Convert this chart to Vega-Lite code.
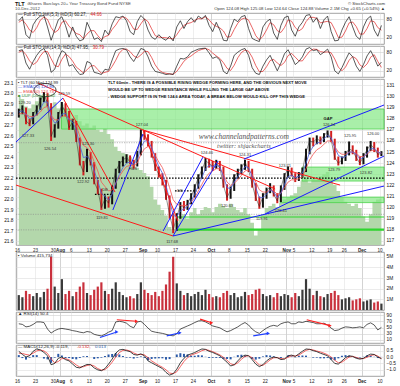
{
"$schema":"https://vega.github.io/schema/vega-lite/v6.json",
"background":"white",
"padding":{"left":3,"top":1,"right":2,"bottom":1},
"config":{"font":"Liberation Sans","view":{"stroke":"#8c8c8c","strokeWidth":0.8},"axis":{"labelFontSize":4.6,"labelColor":"#222","ticks":false,"domain":false,"title":null,"gridColor":"#dedede","gridWidth":0.6,"labelPadding":2,"labelOverlap":false,"labelSeparation":0,"labelBound":false},"axisY":{"labelOverlap":false,"labelFontSize":4.8,"labelColor":"#111"}},
"datasets":{
"d":[
{"t":0,"lo":128.1,"hi":128.9,"c":128.6,"e1":128.6,"e2":128.4,"u":22.97,"k5":75,"d5":70,"k14":85,"d14":80,"v":1.4,"r":62,"m":0.45,"s":0.3,"h":0.15,"dn":0},
{"t":1,"lo":128.4,"hi":129.2,"c":129.0,"e1":128.7,"e2":128.5,"u":22.95,"k5":88,"d5":78,"k14":88,"d14":85,"v":1.2,"r":60,"m":0.2,"s":0.28,"h":-0.08,"dn":0},
{"t":2,"lo":127.5,"hi":129.0,"c":127.8,"e1":128.4,"e2":128.4,"u":22.88,"k5":30,"d5":64,"k14":45,"d14":72,"v":1.8,"r":52,"m":0.0,"s":0.2,"h":-0.2,"dn":1},
{"t":3,"lo":127.33,"hi":128.0,"c":127.5,"e1":128.0,"e2":128.2,"u":22.86,"k5":18,"d5":45,"k14":25,"d14":52,"v":1.5,"r":54,"m":0.1,"s":0.15,"h":-0.05,"dn":1},
{"t":4,"lo":127.5,"hi":128.6,"c":128.4,"e1":128.1,"e2":128.2,"u":22.90,"k5":62,"d5":37,"k14":50,"d14":40,"v":1.3,"r":60,"m":0.45,"s":0.3,"h":0.15,"dn":0},
{"t":5,"lo":128.3,"hi":129.2,"c":128.9,"e1":128.4,"e2":128.3,"u":22.93,"k5":80,"d5":53,"k14":70,"d14":48,"v":1.6,"r":68,"m":0.63,"s":0.48,"h":0.15,"dn":0},
{"t":6,"lo":128.8,"hi":129.9,"c":129.6,"e1":128.9,"e2":128.6,"u":22.97,"k5":90,"d5":77,"k14":85,"d14":68,"v":1.2,"r":68,"m":0.55,"s":0.55,"h":0,"dn":0},
{"t":7,"lo":129.5,"hi":130.4,"c":130.2,"e1":129.5,"e2":129.0,"u":22.98,"k5":92,"d5":87,"k14":92,"d14":82,"v":1.7,"r":66,"m":0.36,"s":0.48,"h":-0.12,"dn":0},
{"t":8,"lo":129.1,"hi":130.3,"c":129.4,"e1":129.5,"e2":129.1,"u":22.94,"k5":55,"d5":79,"k14":70,"d14":82,"v":2.0,"r":45,"m":0.1,"s":0.28,"h":-0.18,"dn":1},
{"t":9,"lo":126.0,"hi":129.4,"c":126.4,"e1":128.2,"e2":128.3,"u":22.88,"k5":12,"d5":53,"k14":15,"d14":59,"v":5.0,"r":32,"m":-0.6,"s":-0.15,"h":-0.45,"dn":1},
{"t":10,"lo":126.3,"hi":127.5,"c":127.2,"e1":127.6,"e2":127.9,"u":22.92,"k5":45,"d5":37,"k14":25,"d14":37,"v":2.2,"r":40,"m":-0.5,"s":-0.45,"h":-0.05,"dn":0},
{"t":11,"lo":127.1,"hi":128.6,"c":128.3,"e1":127.8,"e2":127.9,"u":22.86,"k5":78,"d5":45,"k14":60,"d14":33,"v":1.6,"r":45,"m":-0.1,"s":-0.35,"h":0.25,"dn":0},
{"t":12,"lo":128.2,"hi":129.5,"c":129.2,"e1":128.4,"e2":128.2,"u":22.90,"k5":88,"d5":70,"k14":85,"d14":57,"v":2.9,"r":47,"m":0.0,"s":-0.12,"h":0.12,"dn":0},
{"t":13,"lo":128.2,"hi":129.4,"c":128.6,"e1":128.5,"e2":128.3,"u":22.84,"k5":60,"d5":75,"k14":78,"d14":74,"v":1.5,"r":45,"m":-0.2,"s":-0.12,"h":-0.08,"dn":1},
{"t":14,"lo":127.0,"hi":128.7,"c":127.2,"e1":127.9,"e2":128.0,"u":22.82,"k5":22,"d5":57,"k14":35,"d14":66,"v":1.8,"r":43,"m":-0.3,"s":-0.22,"h":-0.08,"dn":1},
{"t":15,"lo":127.0,"hi":128.0,"c":127.7,"e1":127.7,"e2":127.9,"u":22.76,"k5":55,"d5":46,"k14":40,"d14":51,"v":1.3,"r":40,"m":-0.55,"s":-0.4,"h":-0.15,"dn":0},
{"t":16,"lo":125.9,"hi":127.8,"c":126.2,"e1":127.0,"e2":127.4,"u":22.80,"k5":25,"d5":34,"k14":22,"d14":32,"v":1.7,"r":38,"m":-0.8,"s":-0.62,"h":-0.18,"dn":1},
{"t":17,"lo":123.8,"hi":126.3,"c":124.0,"e1":125.6,"e2":126.4,"u":22.74,"k5":10,"d5":30,"k14":8,"d14":23,"v":2.2,"r":35,"m":-0.85,"s":-0.78,"h":-0.07,"dn":1},
{"t":18,"lo":122.9,"hi":124.2,"c":123.2,"e1":124.5,"e2":125.6,"u":22.70,"k5":15,"d5":17,"k14":10,"d14":13,"v":2.6,"r":33,"m":-0.7,"s":-0.76,"h":0.06,"dn":1},
{"t":19,"lo":123.2,"hi":125.3,"c":124.9,"e1":124.6,"e2":125.4,"u":22.72,"k5":70,"d5":32,"k14":50,"d14":23,"v":1.6,"r":37,"m":-0.58,"s":-0.66,"h":0.08,"dn":0},
{"t":20,"lo":123.8,"hi":125.0,"c":124.0,"e1":124.3,"e2":125.0,"u":22.68,"k5":45,"d5":43,"k14":45,"d14":35,"v":1.4,"r":35,"m":-0.6,"s":-0.6,"h":0,"dn":1},
{"t":21,"lo":122.1,"hi":124.1,"c":122.3,"e1":123.3,"e2":124.1,"u":22.70,"k5":15,"d5":43,"k14":15,"d14":37,"v":1.9,"r":28,"m":-0.85,"s":-0.7,"h":-0.15,"dn":1},
{"t":22,"lo":121.2,"hi":122.5,"c":121.6,"e1":122.4,"e2":123.3,"u":22.66,"k5":20,"d5":27,"k14":12,"d14":24,"v":2.2,"r":25,"m":-1.0,"s":-0.9,"h":-0.1,"dn":1},
{"t":23,"lo":119.8,"hi":121.7,"c":120.0,"e1":121.3,"e2":122.3,"u":22.64,"k5":8,"d5":14,"k14":8,"d14":12,"v":2.6,"r":23,"m":-1.07,"s":-1.02,"h":-0.05,"dn":1},
{"t":24,"lo":119.9,"hi":121.1,"c":120.8,"e1":121.0,"e2":121.9,"u":22.67,"k5":45,"d5":24,"k14":25,"d14":15,"v":1.8,"r":28,"m":-0.9,"s":-0.98,"h":0.08,"dn":0},
{"t":25,"lo":120.0,"hi":121.0,"c":120.4,"e1":120.7,"e2":121.5,"u":22.62,"k5":30,"d5":28,"k14":22,"d14":18,"v":1.5,"r":35,"m":-0.55,"s":-0.75,"h":0.2,"dn":1},
{"t":26,"lo":120.3,"hi":122.0,"c":121.8,"e1":121.2,"e2":121.6,"u":22.57,"k5":65,"d5":47,"k14":55,"d14":34,"v":2.0,"r":40,"m":-0.16,"s":-0.4,"h":0.24,"dn":0},
{"t":27,"lo":121.7,"hi":123.5,"c":123.3,"e1":122.2,"e2":122.2,"u":22.50,"k5":88,"d5":61,"k14":85,"d14":54,"v":2.6,"r":68,"m":0.3,"s":0.0,"h":0.3,"dn":0},
{"t":28,"lo":123.1,"hi":124.2,"c":123.9,"e1":123.0,"e2":122.8,"u":22.46,"k5":85,"d5":79,"k14":90,"d14":77,"v":1.7,"r":70,"m":0.55,"s":0.35,"h":0.2,"dn":0},
{"t":29,"lo":123.7,"hi":124.6,"c":124.3,"e1":123.6,"e2":123.3,"u":22.44,"k5":90,"d5":88,"k14":92,"d14":89,"v":1.4,"r":68,"m":0.6,"s":0.52,"h":0.08,"dn":0},
{"t":30,"lo":124.0,"hi":124.8,"c":124.5,"e1":124.0,"e2":123.7,"u":22.43,"k5":75,"d5":83,"k14":88,"d14":90,"v":1.2,"r":64,"m":0.5,"s":0.55,"h":-0.05,"dn":0},
{"t":31,"lo":123.9,"hi":124.7,"c":124.1,"e1":124.1,"e2":123.8,"u":22.40,"k5":40,"d5":68,"k14":65,"d14":82,"v":1.3,"r":54,"m":0.42,"s":0.47,"h":-0.05,"dn":1},
{"t":32,"lo":123.5,"hi":124.3,"c":123.8,"e1":123.9,"e2":123.8,"u":22.33,"k5":30,"d5":48,"k14":50,"d14":68,"v":1.1,"r":49,"m":0.2,"s":0.32,"h":-0.12,"dn":1},
{"t":33,"lo":123.7,"hi":125.1,"c":124.8,"e1":124.3,"e2":124.0,"u":22.30,"k5":72,"d5":47,"k14":70,"d14":62,"v":1.5,"r":68,"m":0.15,"s":0.2,"h":-0.05,"dn":0},
{"t":34,"lo":124.7,"hi":127.04,"c":126.6,"e1":125.4,"e2":124.8,"u":22.28,"k5":92,"d5":65,"k14":92,"d14":71,"v":2.6,"r":70,"m":0.25,"s":0.2,"h":0.05,"dn":0},
{"t":35,"lo":126.1,"hi":126.9,"c":126.5,"e1":126.0,"e2":125.3,"u":22.25,"k5":80,"d5":81,"k14":88,"d14":83,"v":1.9,"r":60,"m":0.1,"s":0.17,"h":-0.07,"dn":1},
{"t":36,"lo":125.5,"hi":126.6,"c":125.9,"e1":126.0,"e2":125.5,"u":22.22,"k5":45,"d5":72,"k14":65,"d14":82,"v":1.6,"r":48,"m":-0.3,"s":-0.05,"h":-0.25,"dn":1},
{"t":37,"lo":124.5,"hi":126.0,"c":124.8,"e1":125.4,"e2":125.2,"u":22.12,"k5":22,"d5":49,"k14":35,"d14":63,"v":1.4,"r":38,"m":-0.45,"s":-0.3,"h":-0.15,"dn":1},
{"t":38,"lo":123.3,"hi":124.9,"c":123.6,"e1":124.5,"e2":124.7,"u":22.00,"k5":15,"d5":27,"k14":18,"d14":39,"v":1.7,"r":35,"m":-0.6,"s":-0.48,"h":-0.12,"dn":1},
{"t":39,"lo":122.7,"hi":123.7,"c":123.0,"e1":123.7,"e2":124.1,"u":21.95,"k5":30,"d5":22,"k14":15,"d14":23,"v":1.3,"r":33,"m":-0.75,"s":-0.65,"h":-0.1,"dn":1},
{"t":40,"lo":122.0,"hi":123.1,"c":122.5,"e1":123.1,"e2":123.6,"u":21.90,"k5":18,"d5":21,"k14":12,"d14":15,"v":1.8,"r":31,"m":-0.9,"s":-0.8,"h":-0.1,"dn":1},
{"t":41,"lo":120.7,"hi":122.5,"c":121.0,"e1":122.0,"e2":122.8,"u":21.85,"k5":12,"d5":20,"k14":8,"d14":12,"v":2.4,"r":28,"m":-1.2,"s":-1.0,"h":-0.2,"dn":1},
{"t":42,"lo":119.0,"hi":121.1,"c":119.4,"e1":120.7,"e2":121.8,"u":21.74,"k5":25,"d5":18,"k14":10,"d14":10,"v":3.6,"r":25,"m":-1.41,"s":-1.25,"h":-0.16,"dn":1},
{"t":43,"lo":117.7,"hi":119.5,"c":118.0,"e1":119.3,"e2":120.7,"u":21.72,"k5":10,"d5":16,"k14":8,"d14":9,"v":5.0,"r":23,"m":-1.3,"s":-1.3,"h":0,"dn":1},
{"t":44,"lo":117.9,"hi":119.5,"c":119.2,"e1":119.2,"e2":120.3,"u":21.78,"k5":55,"d5":30,"k14":35,"d14":18,"v":2.5,"r":30,"m":-0.95,"s":-1.15,"h":0.2,"dn":0},
{"t":45,"lo":119.0,"hi":120.5,"c":120.2,"e1":119.7,"e2":120.2,"u":21.84,"k5":75,"d5":47,"k14":60,"d14":34,"v":1.8,"r":45,"m":-0.45,"s":-0.75,"h":0.3,"dn":0},
{"t":46,"lo":119.7,"hi":120.6,"c":120.0,"e1":119.9,"e2":120.2,"u":21.86,"k5":50,"d5":60,"k14":58,"d14":51,"v":1.4,"r":50,"m":-0.1,"s":-0.35,"h":0.25,"dn":1},
{"t":47,"lo":119.8,"hi":120.7,"c":120.4,"e1":120.1,"e2":120.2,"u":21.82,"k5":72,"d5":66,"k14":65,"d14":61,"v":1.6,"r":55,"m":0.15,"s":-0.05,"h":0.2,"dn":0},
{"t":48,"lo":120.3,"hi":121.3,"c":121.0,"e1":120.6,"e2":120.5,"u":21.88,"k5":85,"d5":69,"k14":80,"d14":68,"v":1.3,"r":60,"m":0.25,"s":0.15,"h":0.1,"dn":0},
{"t":49,"lo":120.9,"hi":122.1,"c":121.8,"e1":121.2,"e2":120.9,"u":21.92,"k5":70,"d5":76,"k14":85,"d14":77,"v":1.5,"r":66,"m":0.35,"s":0.25,"h":0.1,"dn":0},
{"t":50,"lo":121.7,"hi":123.0,"c":122.7,"e1":122.0,"e2":121.5,"u":21.86,"k5":90,"d5":82,"k14":90,"d14":85,"v":1.7,"r":71,"m":0.5,"s":0.35,"h":0.15,"dn":0},
{"t":51,"lo":122.6,"hi":123.7,"c":123.4,"e1":122.7,"e2":122.1,"u":21.90,"k5":82,"d5":81,"k14":92,"d14":89,"v":1.4,"r":72,"m":0.63,"s":0.5,"h":0.13,"dn":0},
{"t":52,"lo":123.3,"hi":124.46,"c":124.2,"e1":123.5,"e2":122.7,"u":21.93,"k5":92,"d5":88,"k14":93,"d14":92,"v":1.9,"r":68,"m":0.6,"s":0.58,"h":0.02,"dn":0},
{"t":53,"lo":123.6,"hi":124.4,"c":124.0,"e1":123.8,"e2":123.1,"u":21.92,"k5":60,"d5":78,"k14":78,"d14":88,"v":1.5,"r":62,"m":0.45,"s":0.52,"h":-0.07,"dn":1},
{"t":54,"lo":123.3,"hi":124.2,"c":123.7,"e1":123.7,"e2":123.3,"u":21.88,"k5":40,"d5":64,"k14":60,"d14":77,"v":1.2,"r":55,"m":0.36,"s":0.42,"h":-0.06,"dn":1},
{"t":55,"lo":123.5,"hi":124.3,"c":124.0,"e1":123.8,"e2":123.5,"u":21.93,"k5":70,"d5":57,"k14":65,"d14":68,"v":1.3,"r":52,"m":0.23,"s":0.3,"h":-0.07,"dn":0},
{"t":56,"lo":123.3,"hi":124.2,"c":123.6,"e1":123.7,"e2":123.5,"u":21.96,"k5":45,"d5":52,"k14":55,"d14":60,"v":1.2,"r":49,"m":0.1,"s":0.17,"h":-0.07,"dn":1},
{"t":57,"lo":121.8,"hi":123.7,"c":122.0,"e1":122.8,"e2":123.0,"u":21.94,"k5":12,"d5":42,"k14":18,"d14":46,"v":1.6,"r":42,"m":-0.16,"s":-0.02,"h":-0.14,"dn":1},
{"t":58,"lo":120.63,"hi":122.1,"c":120.9,"e1":121.8,"e2":122.3,"u":21.92,"k5":10,"d5":22,"k14":10,"d14":28,"v":1.8,"r":36,"m":-0.4,"s":-0.25,"h":-0.15,"dn":1},
{"t":59,"lo":120.8,"hi":121.9,"c":121.6,"e1":121.7,"e2":122.0,"u":21.96,"k5":50,"d5":24,"k14":35,"d14":21,"v":1.4,"r":40,"m":-0.7,"s":-0.52,"h":-0.18,"dn":0},
{"t":60,"lo":121.5,"hi":123.0,"c":122.8,"e1":122.3,"e2":122.2,"u":21.93,"k5":80,"d5":47,"k14":70,"d14":38,"v":1.6,"r":46,"m":-0.6,"s":-0.62,"h":0.02,"dn":0},
{"t":61,"lo":122.6,"hi":123.5,"c":123.2,"e1":122.8,"e2":122.5,"u":21.90,"k5":72,"d5":67,"k14":80,"d14":62,"v":1.2,"r":52,"m":-0.3,"s":-0.45,"h":0.15,"dn":0},
{"t":62,"lo":123.0,"hi":123.9,"c":123.6,"e1":123.2,"e2":122.9,"u":21.88,"k5":88,"d5":80,"k14":88,"d14":79,"v":1.3,"r":60,"m":0.0,"s":-0.18,"h":0.18,"dn":0},
{"t":63,"lo":123.4,"hi":124.31,"c":124.1,"e1":123.7,"e2":123.3,"u":21.92,"k5":92,"d5":84,"k14":92,"d14":87,"v":1.7,"r":66,"m":0.15,"s":0.05,"h":0.1,"dn":0},
{"t":64,"lo":123.2,"hi":124.2,"c":123.4,"e1":123.6,"e2":123.4,"u":21.86,"k5":50,"d5":77,"k14":70,"d14":83,"v":1.4,"r":58,"m":0.1,"s":0.1,"h":0,"dn":1},
{"t":65,"lo":121.8,"hi":123.5,"c":122.1,"e1":122.8,"e2":123.0,"u":21.78,"k5":18,"d5":53,"k14":30,"d14":64,"v":1.5,"r":45,"m":-0.2,"s":-0.05,"h":-0.15,"dn":1},
{"t":66,"lo":120.6,"hi":122.2,"c":120.9,"e1":121.8,"e2":122.3,"u":21.66,"k5":12,"d5":27,"k14":12,"d14":37,"v":1.9,"r":36,"m":-0.55,"s":-0.35,"h":-0.2,"dn":1},
{"t":67,"lo":119.9,"hi":121.0,"c":120.1,"e1":120.9,"e2":121.6,"u":21.72,"k5":8,"d5":13,"k14":8,"d14":17,"v":2.0,"r":31,"m":-0.75,"s":-0.62,"h":-0.13,"dn":1},
{"t":68,"lo":120.0,"hi":121.3,"c":121.0,"e1":120.9,"e2":121.4,"u":21.86,"k5":55,"d5":25,"k14":35,"d14":18,"v":1.5,"r":40,"m":-0.6,"s":-0.65,"h":0.05,"dn":0},
{"t":69,"lo":120.8,"hi":121.8,"c":121.5,"e1":121.2,"e2":121.4,"u":21.92,"k5":72,"d5":45,"k14":55,"d14":33,"v":1.3,"r":48,"m":-0.3,"s":-0.45,"h":0.15,"dn":0},
{"t":70,"lo":121.3,"hi":122.2,"c":121.9,"e1":121.6,"e2":121.6,"u":21.94,"k5":80,"d5":69,"k14":70,"d14":53,"v":1.4,"r":54,"m":-0.1,"s":-0.22,"h":0.12,"dn":0},
{"t":71,"lo":121.0,"hi":122.0,"c":121.2,"e1":121.4,"e2":121.5,"u":21.96,"k5":35,"d5":62,"k14":45,"d14":57,"v":1.2,"r":57,"m":0.0,"s":-0.06,"h":0.06,"dn":1},
{"t":72,"lo":120.4,"hi":121.3,"c":120.6,"e1":120.9,"e2":121.2,"u":21.93,"k5":15,"d5":43,"k14":20,"d14":45,"v":1.6,"r":54,"m":-0.05,"s":-0.05,"h":0,"dn":1},
{"t":73,"lo":120.5,"hi":122.0,"c":121.8,"e1":121.3,"e2":121.3,"u":21.97,"k5":60,"d5":37,"k14":45,"d14":37,"v":1.3,"r":62,"m":-0.2,"s":-0.12,"h":-0.08,"dn":0},
{"t":74,"lo":121.6,"hi":123.1,"c":122.9,"e1":122.1,"e2":121.8,"u":22.00,"k5":85,"d5":53,"k14":75,"d14":47,"v":1.5,"r":66,"m":-0.15,"s":-0.15,"h":0,"dn":0},
{"t":75,"lo":122.7,"hi":123.71,"c":123.5,"e1":122.8,"e2":122.3,"u":22.02,"k5":90,"d5":78,"k14":88,"d14":69,"v":1.4,"r":68,"m":0.1,"s":-0.02,"h":0.12,"dn":0},
{"t":76,"lo":122.8,"hi":123.6,"c":123.0,"e1":122.9,"e2":122.5,"u":22.04,"k5":45,"d5":73,"k14":65,"d14":76,"v":1.2,"r":62,"m":0.15,"s":0.1,"h":0.05,"dn":1},
{"t":77,"lo":122.3,"hi":123.1,"c":122.6,"e1":122.7,"e2":122.5,"u":22.06,"k5":25,"d5":53,"k14":40,"d14":64,"v":1.6,"r":62,"m":0.05,"s":0.08,"h":-0.03,"dn":1},
{"t":78,"lo":122.4,"hi":123.2,"c":122.9,"e1":122.8,"e2":122.6,"u":22.12,"k5":55,"d5":42,"k14":50,"d14":52,"v":1.3,"r":68,"m":0.25,"s":0.15,"h":0.1,"dn":0},
{"t":79,"lo":122.7,"hi":123.6,"c":123.3,"e1":123.1,"e2":122.8,"u":22.18,"k5":70,"d5":50,"k14":65,"d14":52,"v":1.9,"r":66,"m":0.45,"s":0.33,"h":0.12,"dn":0},
{"t":80,"lo":123.2,"hi":125.3,"c":125.0,"e1":124.0,"e2":123.5,"u":22.20,"k5":92,"d5":72,"k14":90,"d14":68,"v":2.9,"r":70,"m":0.63,"s":0.52,"h":0.11,"dn":0},
{"t":81,"lo":124.8,"hi":126.3,"c":126.0,"e1":125.0,"e2":124.3,"u":22.16,"k5":95,"d5":86,"k14":95,"d14":83,"v":2.0,"r":68,"m":0.6,"s":0.6,"h":0,"dn":0},
{"t":82,"lo":125.5,"hi":126.3,"c":125.9,"e1":125.5,"e2":124.8,"u":22.20,"k5":70,"d5":86,"k14":85,"d14":90,"v":1.4,"r":66,"m":0.5,"s":0.55,"h":-0.05,"dn":1},
{"t":83,"lo":125.7,"hi":126.5,"c":126.2,"e1":125.8,"e2":125.2,"u":22.19,"k5":85,"d5":83,"k14":88,"d14":89,"v":1.8,"r":62,"m":0.42,"s":0.47,"h":-0.05,"dn":0},
{"t":84,"lo":125.7,"hi":126.4,"c":126.0,"e1":125.9,"e2":125.4,"u":22.22,"k5":50,"d5":68,"k14":72,"d14":82,"v":1.3,"r":62,"m":0.3,"s":0.4,"h":-0.1,"dn":1},
{"t":85,"lo":125.9,"hi":126.7,"c":126.5,"e1":126.2,"e2":125.7,"u":22.24,"k5":78,"d5":71,"k14":80,"d14":80,"v":1.2,"r":64,"m":0.2,"s":0.3,"h":-0.1,"dn":0},
{"t":86,"lo":126.3,"hi":126.94,"c":126.8,"e1":126.5,"e2":126.0,"u":22.26,"k5":90,"d5":73,"k14":90,"d14":81,"v":1.5,"r":58,"m":0.1,"s":0.18,"h":-0.08,"dn":0},
{"t":87,"lo":125.9,"hi":126.9,"c":126.1,"e1":126.3,"e2":126.0,"u":22.20,"k5":40,"d5":69,"k14":65,"d14":78,"v":1.6,"r":48,"m":-0.2,"s":0.0,"h":-0.2,"dn":1},
{"t":88,"lo":124.3,"hi":126.2,"c":124.5,"e1":125.4,"e2":125.5,"u":22.14,"k5":10,"d5":47,"k14":20,"d14":58,"v":1.8,"r":40,"m":-0.5,"s":-0.25,"h":-0.25,"dn":1},
{"t":89,"lo":123.79,"hi":124.6,"c":124.0,"e1":124.7,"e2":125.0,"u":22.08,"k5":12,"d5":21,"k14":10,"d14":32,"v":1.4,"r":42,"m":-0.55,"s":-0.45,"h":-0.1,"dn":1},
{"t":90,"lo":123.9,"hi":124.6,"c":124.3,"e1":124.5,"e2":124.8,"u":22.02,"k5":45,"d5":22,"k14":30,"d14":20,"v":1.0,"r":48,"m":-0.3,"s":-0.4,"h":0.1,"dn":0},
{"t":91,"lo":124.2,"hi":125.1,"c":124.8,"e1":124.6,"e2":124.8,"u":21.98,"k5":70,"d5":42,"k14":55,"d14":32,"v":1.1,"r":52,"m":-0.05,"s":-0.2,"h":0.15,"dn":0},
{"t":92,"lo":124.7,"hi":125.95,"c":125.3,"e1":125.0,"e2":125.0,"u":21.96,"k5":88,"d5":68,"k14":78,"d14":54,"v":1.2,"r":51,"m":0.1,"s":0.0,"h":0.1,"dn":0},
{"t":93,"lo":124.8,"hi":125.6,"c":125.1,"e1":125.0,"e2":125.0,"u":21.94,"k5":55,"d5":71,"k14":65,"d14":66,"v":0.9,"r":49,"m":0.05,"s":0.05,"h":0,"dn":1},
{"t":94,"lo":124.2,"hi":125.2,"c":124.5,"e1":124.8,"e2":124.9,"u":21.96,"k5":25,"d5":56,"k14":35,"d14":59,"v":1.0,"r":50,"m":-0.1,"s":-0.03,"h":-0.07,"dn":1},
{"t":95,"lo":123.82,"hi":124.6,"c":124.0,"e1":124.4,"e2":124.6,"u":21.92,"k5":15,"d5":32,"k14":18,"d14":39,"v":1.1,"r":52,"m":-0.16,"s":-0.12,"h":-0.04,"dn":1},
{"t":96,"lo":123.9,"hi":124.9,"c":124.6,"e1":124.5,"e2":124.6,"u":21.84,"k5":55,"d5":32,"k14":40,"d14":31,"v":0.8,"r":49,"m":-0.1,"s":-0.12,"h":0.02,"dn":0},
{"t":97,"lo":124.5,"hi":125.5,"c":125.2,"e1":124.9,"e2":124.8,"u":21.79,"k5":80,"d5":50,"k14":68,"d14":42,"v":0.9,"r":60,"m":0.1,"s":-0.02,"h":0.12,"dn":0},
{"t":98,"lo":125.1,"hi":126.0,"c":125.7,"e1":125.3,"e2":125.1,"u":21.86,"k5":90,"d5":75,"k14":85,"d14":64,"v":1.0,"r":65,"m":0.23,"s":0.12,"h":0.11,"dn":0},
{"t":99,"lo":125.0,"hi":125.9,"c":125.3,"e1":125.3,"e2":125.2,"u":21.98,"k5":45,"d5":72,"k14":62,"d14":72,"v":0.7,"r":58,"m":0.2,"s":0.18,"h":0.02,"dn":1},
{"t":100,"lo":124.5,"hi":125.4,"c":124.8,"e1":125.0,"e2":125.0,"u":22.00,"k5":25,"d5":53,"k14":35,"d14":50,"v":0.8,"r":42,"m":0.0,"s":0.08,"h":-0.08,"dn":1},
{"t":101,"lo":124.64,"hi":125.08,"c":124.88,"e1":124.9,"e2":124.9,"u":22.01,"k5":60,"d5":44.7,"k14":48,"d14":31,"v":0.6,"r":50.4,"m":-0.12,"s":-0.13,"h":0.01,"dn":0}
],
"tl":[
{"id":"r1","t":5.35,"p":131.21,"col":"#ff1a1a"},{"id":"r1","t":71.4,"p":121.68,"col":"#ff1a1a"},
{"id":"r2","t":34.6,"p":126.98,"col":"#ff1a1a"},{"id":"r2","t":89.5,"p":122.03,"col":"#ff1a1a"},
{"id":"r4","t":12.3,"p":129.86,"col":"#ff1a1a"},{"id":"r4","t":26.8,"p":121.4,"col":"#ff1a1a"},
{"id":"r5","t":34.6,"p":126.98,"col":"#ff1a1a"},{"id":"r5","t":44.3,"p":118.8,"col":"#ff1a1a"},
{"id":"r6","t":-0.78,"p":122.03,"col":"#ff1a1a"},{"id":"r6","t":42.97,"p":117.45,"col":"#ff1a1a"},
{"id":"b1","t":-0.78,"p":125.9,"col":"#1a1aff"},{"id":"b1","t":12.3,"p":129.86,"col":"#1a1aff"},
{"id":"b2","t":26.2,"p":119.79,"col":"#1a1aff"},{"id":"b2","t":34.6,"p":126.62,"col":"#1a1aff"},
{"id":"b3","t":40.2,"p":117.9,"col":"#1a1aff"},{"id":"b3","t":51.3,"p":124.55,"col":"#1a1aff"},
{"id":"b4","t":42.95,"p":117.45,"col":"#1a1aff"},{"id":"b4","t":55.5,"p":124.19,"col":"#1a1aff"},
{"id":"b5","t":42.96,"p":117.45,"col":"#1a1aff"},{"id":"b5","t":101.72,"p":121.94,"col":"#1a1aff"},
{"id":"b6","t":68.6,"p":119.43,"col":"#1a1aff"},{"id":"b6","t":101.72,"p":124.64,"col":"#1a1aff"},
{"id":"b7","t":62.7,"p":124.37,"col":"#1a1aff"},{"id":"b7","t":101.72,"p":129.23,"col":"#1a1aff"}
],
"lb":[
{"t":1.6,"p":129.41,"s":"129.20"},{"t":2.56,"p":126.44,"s":"127.33"},{"t":8.69,"p":125.27,"s":"126.54"},
{"t":12.6,"p":130.22,"s":"129.59"},{"t":19.3,"p":125.72,"s":"125.30"},{"t":17.9,"p":122.3,"s":"122.92"},
{"t":23.2,"p":119.07,"s":"119.81"},{"t":24.0,"p":121.58,"s":"DB"},{"t":31.8,"p":123.47,"s":"H&S"},
{"t":34.3,"p":127.43,"s":"127.04"},{"t":44.9,"p":121.49,"s":"DB"},{"t":42.7,"p":116.95,"s":"117.68"},
{"t":52.4,"p":124.91,"s":"124.46"},{"t":58.0,"p":120.15,"s":"120.63"},{"t":63.0,"p":124.73,"s":"124.31"},
{"t":67.7,"p":118.98,"s":"119.91"},{"t":73.0,"p":119.7,"s":"120.41"},{"t":74.1,"p":123.74,"s":"123.71"},
{"t":86.4,"p":127.43,"s":"126.94"},{"t":87.8,"p":123.38,"s":"123.79"},{"t":92.3,"p":126.44,"s":"125.95"},
{"t":96.7,"p":123.11,"s":"123.82"},{"t":98.7,"p":126.62,"s":"126.00"}
],
"ar":[
{"id":"a1","t":22.6,"v":18,"col":"#1f3fff","e":0},{"id":"a1","t":27.3,"v":35.5,"col":"#1f3fff","e":1},
{"id":"a2","t":27.3,"v":75,"col":"#ff2020","e":0},{"id":"a2","t":32.8,"v":70,"col":"#ff2020","e":1},
{"id":"a3","t":41.2,"v":23,"col":"#1f3fff","e":0},{"id":"a3","t":44.9,"v":33,"col":"#1f3fff","e":1},
{"id":"a4","t":50.5,"v":77,"col":"#ff2020","e":0},{"id":"a4","t":53.7,"v":65,"col":"#ff2020","e":1},
{"id":"a5","t":65.3,"v":23,"col":"#1f3fff","e":0},{"id":"a5","t":69.5,"v":31,"col":"#1f3fff","e":1},
{"id":"a6","t":80.2,"v":75,"col":"#ff2020","e":0},{"id":"a6","t":86.7,"v":56,"col":"#ff2020","e":1}
]
},
"bounds":"flush",
"spacing":2,
"vconcat":[
{"width":368,"height":31,"data":{"name":"d"},
 "encoding":{"x":{"field":"t","type":"quantitative","scale":{"domain":[-0.78,101.72],"nice":false,"zero":false},"axis":{"values":[-0.5,4.5,9.5,11.5,14.5,19.5,24.5,29.5,34.5,38.5,43.5,48.5,53.5,58.5,63.5,68.5,74.5,76.5,81.5,86.5,90.5,95.5,100.5],"labels":false,"grid":true,"gridColor":{"condition":{"test":"indexof([11.5,34.5,53.5,74.5,95.5], datum.value) >= 0","value":"#b5b5b5"},"value":"#e2e2e2"}}}},
 "layer":[
  {"mark":{"type":"line","color":"#e02424","strokeWidth":0.7},"encoding":{"y":{"field":"d5","type":"quantitative","scale":{"domain":[0,100]},"axis":{"orient":"right","values":[20,50,80],"grid":true,"gridColor":"#cfcfcf","labelOverlap":false}}}},
  {"mark":{"type":"line","color":"#111","strokeWidth":0.7},"encoding":{"y":{"field":"k5","type":"quantitative","scale":{"domain":[0,100]}}}},
  {"data":{"values":[{"t":-0.22,"v":94,"s":"— Full STO %K(5,3) %D(3) 60.27,"}]},"mark":{"type":"text","align":"left","baseline":"middle","fontSize":4.5,"color":"#222"},"encoding":{"y":{"field":"v","type":"quantitative","scale":{"domain":[0,100]}},"text":{"field":"s"}}},
  {"data":{"values":[{"t":20.0,"v":94,"s":"44.66"}]},"mark":{"type":"text","align":"left","baseline":"middle","fontSize":4.5,"color":"#e02424"},"encoding":{"y":{"field":"v","type":"quantitative","scale":{"domain":[0,100]}},"text":{"field":"s"}}},
  {"data":{"values":[{"t":-1.06,"v":130.6,"s":"TLT"}]},"mark":{"type":"text","align":"left","baseline":"middle","fontSize":5.5,"fontWeight":"bold","color":"#111"},"encoding":{"y":{"field":"v","type":"quantitative","scale":{"domain":[0,100]}},"text":{"field":"s"}}},
  {"data":{"values":[{"t":2.4,"v":130.6,"s":"iShares Barclays 20+ Year Treasury Bond Fund NYSE"},{"t":-1.06,"v":112.9,"s":"10-Dec-2012"}]},"mark":{"type":"text","align":"left","baseline":"middle","fontSize":4.3,"color":"#444"},"encoding":{"y":{"field":"v","type":"quantitative","scale":{"domain":[0,100]}},"text":{"field":"s"}}},
  {"data":{"values":[{"t":102.0,"v":130.6,"s":"© StockCharts.com"},{"t":102.0,"v":112.9,"s":"Open 124.08  High 125.08  Low 124.64  Close 124.88  Volume 2.1M  Chg +0.65 (+0.54%) ▲"}]},"mark":{"type":"text","align":"right","baseline":"middle","fontSize":4.3,"color":"#333"},"encoding":{"y":{"field":"v","type":"quantitative","scale":{"domain":[0,100]}},"text":{"field":"s"}}}
 ]},
{"width":368,"height":31,"data":{"name":"d"},
 "encoding":{"x":{"field":"t","type":"quantitative","scale":{"domain":[-0.78,101.72],"nice":false,"zero":false},"axis":{"values":[-0.5,4.5,9.5,11.5,14.5,19.5,24.5,29.5,34.5,38.5,43.5,48.5,53.5,58.5,63.5,68.5,74.5,76.5,81.5,86.5,90.5,95.5,100.5],"labels":false,"grid":true,"gridColor":{"condition":{"test":"indexof([11.5,34.5,53.5,74.5,95.5], datum.value) >= 0","value":"#b5b5b5"},"value":"#e2e2e2"}}}},
 "layer":[
  {"mark":{"type":"line","color":"#e02424","strokeWidth":0.7},"encoding":{"y":{"field":"d14","type":"quantitative","scale":{"domain":[0,100]},"axis":{"orient":"right","values":[20,50,80],"grid":true,"gridColor":"#cfcfcf","labelOverlap":false}}}},
  {"mark":{"type":"line","color":"#111","strokeWidth":0.7},"encoding":{"y":{"field":"k14","type":"quantitative","scale":{"domain":[0,100]}}}},
  {"data":{"values":[{"t":-0.22,"v":93,"s":"— Full STO %K(14,3) %D(3) 47.95,"}]},"mark":{"type":"text","align":"left","baseline":"middle","fontSize":4.5,"color":"#222"},"encoding":{"y":{"field":"v","type":"quantitative","scale":{"domain":[0,100]}},"text":{"field":"s"}}},
  {"data":{"values":[{"t":20.6,"v":93,"s":"30.79"}]},"mark":{"type":"text","align":"left","baseline":"middle","fontSize":4.5,"color":"#e02424"},"encoding":{"y":{"field":"v","type":"quantitative","scale":{"domain":[0,100]}},"text":{"field":"s"}}}
 ]},
{"width":368,"height":166,
 "encoding":{"x":{"field":"t","type":"quantitative","scale":{"domain":[-0.78,101.72],"nice":false,"zero":false},"axis":{"values":[-0.5,4.5,9.5,11.5,14.5,19.5,24.5,29.5,34.5,38.5,43.5,48.5,53.5,58.5,63.5,68.5,74.5,76.5,81.5,86.5,90.5,95.5,100.5],"grid":true,"gridColor":{"condition":{"test":"indexof([11.5,34.5,53.5,74.5,95.5], datum.value) >= 0","value":"#b5b5b5"},"value":"#e2e2e2"},"labelOverlap":false,"labelFontSize":4.6,"labelPadding":2,"labelFontWeight":{"condition":{"test":"indexof([11.5,34.5,53.5,74.5,95.5], datum.value) >= 0","value":"bold"},"value":"normal"},"labelExpr":"['16','23','30','Aug','6','13','20','27','Sep','10','17','24','Oct','8','15','22','Nov','5','12','19','26','Dec','10'][indexof([-0.5,4.5,9.5,11.5,14.5,19.5,24.5,29.5,34.5,38.5,43.5,48.5,53.5,58.5,63.5,68.5,74.5,76.5,81.5,86.5,90.5,95.5,100.5], datum.value)]"}}},
 "layer":[
  {"data":{"name":"d"},"mark":{"type":"area","color":"#b3d7ab","interpolate":"step","clip":true},"encoding":{"y":{"field":"u","type":"quantitative","scale":{"domain":[21.57,23.14],"nice":false,"zero":false},"axis":{"orient":"left","values":[21.6,21.7,21.8,21.9,22.0,22.1,22.2,22.3,22.4,22.5,22.6,22.7,22.8,22.9,23.0,23.1],"format":".1f","grid":false,"labelPadding":3,"labelOverlap":false}},"y2":{"datum":21.57}}},
  {"data":{"name":"d"},
   "encoding":{"y":{"field":"c","type":"quantitative","scale":{"domain":[116.64,131.57],"nice":false,"zero":false},"axis":{"orient":"right","values":[117,118,119,120,121,122,123,124,125,126,127,128,129,130,131],"grid":true,"labelOverlap":false,"labelSeparation":0}}},
   "layer":[
    {"data":{"values":[{"t1":11.9,"t2":101.72,"p1":127.07,"p2":128.87},{"t1":78.9,"t2":101.72,"p1":122.39,"p2":123.65},{"t1":72.8,"t2":101.72,"p1":120.45,"p2":120.95}]},"mark":{"type":"rect","fill":"#84e884","fillOpacity":0.7,"stroke":"#3fcf3f","strokeWidth":0.7},"encoding":{"x":{"field":"t1","type":"quantitative","scale":{"domain":[-0.78,101.72],"nice":false,"zero":false}},"x2":{"field":"t2"},"y":{"field":"p1","type":"quantitative","scale":{"domain":[116.64,131.57],"nice":false,"zero":false},"axis":{"orient":"right","values":[117,118,119,120,121,122,123,124,125,126,127,128,129,130,131],"grid":true,"labelOverlap":false,"labelSeparation":0}},"y2":{"field":"p2"}}},
    {"data":{"values":[{"t1":-0.78,"t2":101.72,"p":125.84},{"t1":-0.78,"t2":101.72,"p":119.4},{"t1":-0.78,"t2":101.72,"p":118.0}]},"mark":{"type":"rule","color":"#8a8a8a","strokeWidth":0.6,"strokeDash":[1.2,1.2]},"encoding":{"x":{"field":"t1","type":"quantitative","scale":{"domain":[-0.78,101.72],"nice":false,"zero":false}},"x2":{"field":"t2"},"y":{"field":"p","type":"quantitative","scale":{"domain":[116.64,131.57],"nice":false,"zero":false},"axis":{"orient":"right","values":[117,118,119,120,121,122,123,124,125,126,127,128,129,130,131],"grid":true,"labelOverlap":false,"labelSeparation":0}}}},
    {"data":{"values":[{"t1":44.3,"t2":101.72,"p":119.16,"w":1.2},{"t1":44.3,"t2":101.72,"p":118.02,"w":2.2}]},"mark":{"type":"rule","color":"#2fd62f"},"encoding":{"x":{"field":"t1","type":"quantitative","scale":{"domain":[-0.78,101.72],"nice":false,"zero":false}},"x2":{"field":"t2"},"y":{"field":"p","type":"quantitative","scale":{"domain":[116.64,131.57],"nice":false,"zero":false},"axis":{"orient":"right","values":[117,118,119,120,121,122,123,124,125,126,127,128,129,130,131],"grid":true,"labelOverlap":false,"labelSeparation":0}},"strokeWidth":{"field":"w","type":"quantitative","scale":null}}},
    {"data":{"values":[{"t1":-0.78,"t2":101.72,"p":122.65},{"t1":21.2,"t2":26,"p":121.2},{"t1":43.5,"t2":49.5,"p":121.5}]},"mark":{"type":"rule","color":"#000","strokeWidth":1.3,"strokeDash":[1.6,1.4]},"encoding":{"x":{"field":"t1","type":"quantitative","scale":{"domain":[-0.78,101.72],"nice":false,"zero":false}},"x2":{"field":"t2"},"y":{"field":"p","type":"quantitative","scale":{"domain":[116.64,131.57],"nice":false,"zero":false},"axis":{"orient":"right","values":[117,118,119,120,121,122,123,124,125,126,127,128,129,130,131],"grid":true,"labelOverlap":false,"labelSeparation":0}}}},
    {"mark":{"type":"rule","strokeWidth":2},"encoding":{"y":{"field":"lo","type":"quantitative","scale":{"domain":[116.64,131.57],"nice":false,"zero":false},"axis":{"orient":"right","values":[117,118,119,120,121,122,123,124,125,126,127,128,129,130,131],"grid":true,"labelOverlap":false,"labelSeparation":0}},"y2":{"field":"hi"},"color":{"condition":{"test":"datum.dn == 1","value":"#d21f1f"},"value":"#111"}}},
    {"mark":{"type":"line","color":"#222","strokeWidth":0.5}},
    {"mark":{"type":"line","color":"#f25454","strokeWidth":0.8},"encoding":{"y":{"field":"e2","type":"quantitative","scale":{"domain":[116.64,131.57],"nice":false,"zero":false},"axis":{"orient":"right","values":[117,118,119,120,121,122,123,124,125,126,127,128,129,130,131],"grid":true,"labelOverlap":false,"labelSeparation":0}}}},
    {"mark":{"type":"line","color":"#4d5fe0","strokeWidth":0.8},"encoding":{"y":{"field":"e1","type":"quantitative","scale":{"domain":[116.64,131.57],"nice":false,"zero":false},"axis":{"orient":"right","values":[117,118,119,120,121,122,123,124,125,126,127,128,129,130,131],"grid":true,"labelOverlap":false,"labelSeparation":0}}}},
    {"data":{"name":"tl"},"mark":{"type":"line","strokeWidth":1,"clip":true},"encoding":{"y":{"field":"p","type":"quantitative","scale":{"domain":[116.64,131.57],"nice":false,"zero":false},"axis":{"orient":"right","values":[117,118,119,120,121,122,123,124,125,126,127,128,129,130,131],"grid":true,"labelOverlap":false,"labelSeparation":0}},"detail":{"field":"id"},"color":{"field":"col","type":"nominal","scale":null}}},
    {"data":{"values":[{"t":7.3,"p":130.57}]},"mark":{"type":"point","shape":"M -1 0 A 1 0.6 0 1 0 1 0 A 1 0.6 0 1 0 -1 0 Z","size":484,"filled":false,"stroke":"#111","strokeWidth":0.8,"opacity":1},"encoding":{"y":{"field":"p","type":"quantitative","scale":{"domain":[116.64,131.57],"nice":false,"zero":false},"axis":{"orient":"right","values":[117,118,119,120,121,122,123,124,125,126,127,128,129,130,131],"grid":true,"labelOverlap":false,"labelSeparation":0}}}},
    {"data":{"name":"lb"},"mark":{"type":"text","fontSize":4,"color":"#333","baseline":"middle"},"encoding":{"y":{"field":"p","type":"quantitative","scale":{"domain":[116.64,131.57],"nice":false,"zero":false},"axis":{"orient":"right","values":[117,118,119,120,121,122,123,124,125,126,127,128,129,130,131],"grid":true,"labelOverlap":false,"labelSeparation":0}},"text":{"field":"s"}}},
    {"data":{"values":[{"t":24.85,"p":131.2,"s":"TLT 60min - THERE IS A POSSIBLE RISING WEDGE FORMING HERE, AND THE OBVIOUS NEXT MOVE"},{"t":24.85,"p":130.58,"s":"WOULD BE UP TO WEDGE RESISTANCE WHILE FILLING THE LARGE GAP ABOVE"},{"t":24.85,"p":129.95,"s":"- WEDGE SUPPORT IS IN THE 124.6 AREA TODAY, A BREAK BELOW WOULD KILL OFF THIS WEDGE"},{"t":84.9,"p":128.0,"s":"GAP"}]},"mark":{"type":"text","align":"left","baseline":"middle","fontSize":4.1,"fontWeight":"bold","color":"#111"},"encoding":{"y":{"field":"p","type":"quantitative","scale":{"domain":[116.64,131.57],"nice":false,"zero":false},"axis":{"orient":"right","values":[117,118,119,120,121,122,123,124,125,126,127,128,129,130,131],"grid":true,"labelOverlap":false,"labelSeparation":0}},"text":{"field":"s"}}},
    {"data":{"values":[{"t":62.7,"p":126.35,"s":"www.channelandpatterns.com","f":7.5},{"t":62.7,"p":125.53,"s":"twitter: shjackcharts","f":6.5}]},"mark":{"type":"text","font":"Liberation Serif","fontStyle":"italic","color":"#555","baseline":"middle"},"encoding":{"y":{"field":"p","type":"quantitative","scale":{"domain":[116.64,131.57],"nice":false,"zero":false},"axis":{"orient":"right","values":[117,118,119,120,121,122,123,124,125,126,127,128,129,130,131],"grid":true,"labelOverlap":false,"labelSeparation":0}},"text":{"field":"s"},"size":{"field":"f","type":"quantitative","scale":null}}},
    {"data":{"values":[{"t":-0.22,"p":131.22,"s":"▪ TLT (60 Min) 124.99","col":"#222"},{"t":-0.22,"p":130.82,"s":"— EMA(20) 124.86","col":"#3a4fd8"},{"t":-0.22,"p":130.42,"s":"— EMA(50) 124.73","col":"#e83a3a"},{"t":-0.22,"p":130.02,"s":"■ UUP (Daily) 22.02","col":"#3e9a3e"}]},"mark":{"type":"text","align":"left","baseline":"middle","fontSize":4.2},"encoding":{"y":{"field":"p","type":"quantitative","scale":{"domain":[116.64,131.57],"nice":false,"zero":false},"axis":{"orient":"right","values":[117,118,119,120,121,122,123,124,125,126,127,128,129,130,131],"grid":true,"labelOverlap":false,"labelSeparation":0}},"text":{"field":"s"},"color":{"field":"col","type":"nominal","scale":null}}}
   ]}
 ],
 "resolve":{"scale":{"y":"independent"},"axis":{"y":"independent"}}
},
{"width":368,"height":3,"data":{"values":[{"a":1}]},"mark":{"type":"point","opacity":0},"view":{"stroke":null}},
{"width":368,"height":58,"data":{"name":"d"},
 "encoding":{"x":{"field":"t","type":"quantitative","scale":{"domain":[-0.78,101.72],"nice":false,"zero":false},"axis":{"values":[-0.5,4.5,9.5,11.5,14.5,19.5,24.5,29.5,34.5,38.5,43.5,48.5,53.5,58.5,63.5,68.5,74.5,76.5,81.5,86.5,90.5,95.5,100.5],"labels":false,"grid":true,"gridColor":{"condition":{"test":"indexof([11.5,34.5,53.5,74.5,95.5], datum.value) >= 0","value":"#b5b5b5"},"value":"#e2e2e2"}}}},
 "layer":[
  {"mark":{"type":"rule","strokeWidth":2.2},"encoding":{"y":{"field":"v","type":"quantitative","scale":{"domain":[0,5.45],"nice":false},"axis":{"orient":"right","values":[1,2,3,4,5],"labelExpr":"datum.value + 'M'","grid":true,"labelOverlap":false}},"y2":{"datum":0},"color":{"condition":{"test":"datum.dn == 1","value":"#c9303c"},"value":"#3a3a3a"}}},
  {"data":{"values":[{"t":-0.22,"v":5.12,"s":"▪ Volume 415,734"}]},"mark":{"type":"text","align":"left","baseline":"middle","fontSize":4.4,"color":"#222"},"encoding":{"y":{"field":"v","type":"quantitative","scale":{"domain":[0,5.45],"nice":false},"axis":{"orient":"right","values":[1,2,3,4,5],"labelExpr":"datum.value + 'M'","grid":true,"labelOverlap":false}},"text":{"field":"s"}}}
 ]},
{"width":368,"height":31,"data":{"name":"d"},
 "encoding":{"x":{"field":"t","type":"quantitative","scale":{"domain":[-0.78,101.72],"nice":false,"zero":false},"axis":{"values":[-0.5,4.5,9.5,11.5,14.5,19.5,24.5,29.5,34.5,38.5,43.5,48.5,53.5,58.5,63.5,68.5,74.5,76.5,81.5,86.5,90.5,95.5,100.5],"labels":false,"grid":true,"gridColor":{"condition":{"test":"indexof([11.5,34.5,53.5,74.5,95.5], datum.value) >= 0","value":"#b5b5b5"},"value":"#e2e2e2"}}}},
 "layer":[
  {"mark":{"type":"line","color":"#111","strokeWidth":0.7},"encoding":{"y":{"field":"r","type":"quantitative","scale":{"domain":[0,100]},"axis":{"orient":"right","values":[10,30,50,70,90],"grid":true,"gridColor":"#cfcfcf","labelOverlap":false}}}},
  {"data":{"name":"ar"},"mark":{"type":"line","strokeWidth":1.1},"encoding":{"y":{"field":"v","type":"quantitative","scale":{"domain":[0,100]},"axis":{"orient":"right","values":[10,30,50,70,90],"grid":true,"gridColor":"#cfcfcf","labelOverlap":false}},"detail":{"field":"id"},"color":{"field":"col","type":"nominal","scale":null}}},
  {"data":{"name":"ar"},"transform":[{"filter":"datum.e == 1"}],"mark":{"type":"point","shape":"triangle-right","filled":true,"size":14,"opacity":1},"encoding":{"y":{"field":"v","type":"quantitative","scale":{"domain":[0,100]},"axis":{"orient":"right","values":[10,30,50,70,90],"grid":true,"gridColor":"#cfcfcf","labelOverlap":false}},"color":{"field":"col","type":"nominal","scale":null}}},
  {"data":{"values":[{"t":-0.22,"v":92,"s":"▲ RSI(14) 50.4"}]},"mark":{"type":"text","align":"left","baseline":"middle","fontSize":4.4,"color":"#222"},"encoding":{"y":{"field":"v","type":"quantitative","scale":{"domain":[0,100]},"axis":{"orient":"right","values":[10,30,50,70,90],"grid":true,"gridColor":"#cfcfcf","labelOverlap":false}},"text":{"field":"s"}}}
 ]},
{"width":368,"height":31,"data":{"name":"d"},
 "encoding":{"x":{"field":"t","type":"quantitative","scale":{"domain":[-0.78,101.72],"nice":false,"zero":false},"axis":{"values":[-0.5,4.5,9.5,11.5,14.5,19.5,24.5,29.5,34.5,38.5,43.5,48.5,53.5,58.5,63.5,68.5,74.5,76.5,81.5,86.5,90.5,95.5,100.5],"grid":true,"gridColor":{"condition":{"test":"indexof([11.5,34.5,53.5,74.5,95.5], datum.value) >= 0","value":"#b5b5b5"},"value":"#e2e2e2"},"labelOverlap":false,"labelFontSize":4.6,"labelPadding":2,"labelFontWeight":{"condition":{"test":"indexof([11.5,34.5,53.5,74.5,95.5], datum.value) >= 0","value":"bold"},"value":"normal"},"labelExpr":"['16','23','30','Aug','6','13','20','27','Sep','10','17','24','Oct','8','15','22','Nov','5','12','19','26','Dec','10'][indexof([-0.5,4.5,9.5,11.5,14.5,19.5,24.5,29.5,34.5,38.5,43.5,48.5,53.5,58.5,63.5,68.5,74.5,76.5,81.5,86.5,90.5,95.5,100.5], datum.value)]"}}},
 "layer":[
  {"mark":{"type":"rule","strokeWidth":2,"color":"#2b5aa8"},"encoding":{"y":{"field":"h","type":"quantitative","scale":{"domain":[-1.48,0.94],"nice":false,"zero":false},"axis":{"orient":"right","values":[-1,-0.5,0,0.5],"format":".1f","grid":true,"labelOverlap":false}},"y2":{"datum":0}}},
  {"mark":{"type":"line","color":"#f03c3c","strokeWidth":0.8},"encoding":{"y":{"field":"s","type":"quantitative","scale":{"domain":[-1.48,0.94],"nice":false,"zero":false},"axis":{"orient":"right","values":[-1,-0.5,0,0.5],"format":".1f","grid":true,"labelOverlap":false}}}},
  {"mark":{"type":"line","color":"#111","strokeWidth":0.8},"encoding":{"y":{"field":"m","type":"quantitative","scale":{"domain":[-1.48,0.94],"nice":false,"zero":false},"axis":{"orient":"right","values":[-1,-0.5,0,0.5],"format":".1f","grid":true,"labelOverlap":false}}}},
  {"data":{"values":[{"t":-0.22,"v":0.78,"s":"— MACD(12,26,9) -0.119,","col":"#222"},{"t":16.2,"v":0.78,"s":"-0.132,","col":"#e02424"},{"t":21.2,"v":0.78,"s":"0.013","col":"#2b5aa8"}]},"mark":{"type":"text","align":"left","baseline":"middle","fontSize":4.4},"encoding":{"y":{"field":"v","type":"quantitative","scale":{"domain":[-1.48,0.94],"nice":false,"zero":false},"axis":{"orient":"right","values":[-1,-0.5,0,0.5],"format":".1f","grid":true,"labelOverlap":false}},"text":{"field":"s"},"color":{"field":"col","type":"nominal","scale":null}}}
 ]}
]
}
